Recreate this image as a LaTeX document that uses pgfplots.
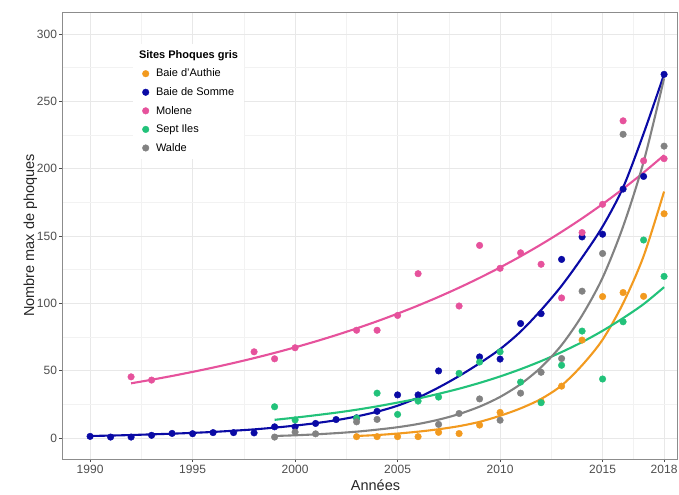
\documentclass[border=0pt]{standalone}
\usepackage{fontspec}
\setmainfont{Liberation Sans}
\usepackage{pgfplots}
\pgfplotsset{compat=1.18}
\definecolor{cOr}{HTML}{F29A1F}
\definecolor{cBl}{HTML}{0A0AA5}
\definecolor{cPk}{HTML}{E6529C}
\definecolor{cGn}{HTML}{22C27A}
\definecolor{cGy}{HTML}{828282}
\definecolor{tickc}{HTML}{4D4D4D}
\begin{document}
\begin{tikzpicture}
\begin{axis}[
  scale only axis, width=615pt, height=447pt,
  xmin=1988.63, xmax=2018.63, ymin=-15.6, ymax=316.3,
  axis line style={draw=gray!90, line width=0.8pt},
  grid=both,
  major grid style={color=black!9, line width=0.6pt},
  minor grid style={color=black!5, line width=0.4pt},
  xtick={1990,1995,2000,2005,2010,2015,2018},
  ytick={0,50,100,150,200,250,300},
  minor xtick={1992.5,1997.5,2002.5,2007.5,2012.5,2016.5},
  minor ytick={25,75,125,175,225,275},
  tick align=outside, xtick pos=bottom, ytick pos=left,
  major tick length=3pt, minor tick length=0pt,
  tick style={draw=tickc, line width=0.6pt},
  /pgf/number format/assume math mode=true,
  /pgf/number format/1000 sep={},
  ticklabel style={font=\fontsize{12}{13}\selectfont, text=tickc},
  yticklabel style={xshift=1.5pt},
  xlabel={Années}, ylabel={Nombre max de phoques},
  xlabel style={yshift=1pt, xshift=6pt},
  ylabel style={yshift=-7pt},
  label style={font=\fontsize{14.5}{16}\selectfont, text=black!85},
  legend cell align=left,
  legend style={at={(axis description cs:0.1154,0.928)}, anchor=north west,
    draw=none, fill=white, font=\fontsize{11}{13}\selectfont,
    row sep=5.1pt, inner sep=4pt},
]
\addlegendimage{empty legend}
\addlegendentry{\hspace{-12pt}\textbf{Sites Phoques gris}}
% points
\addplot[only marks, mark=*, mark size=3.3pt, color=cOr] coordinates {
(2003,1)(2004,1)(2005,1)(2006,1)(2007,4.2)(2008,3.3)(2009,9.6)(2010,19)(2012,27)(2013,38.5)(2014,72.7)(2015,105)(2016,108)(2017,105.2)(2018,166.5)};
\addlegendentry{\hspace{5pt}Baie d'Authie}
\addplot[only marks, mark=*, mark size=3.3pt, color=cBl] coordinates {
(1990,1.2)(1991,0.7)(1992,0.7)(1993,2)(1994,3.4)(1995,3.2)(1996,4)(1997,4)(1998,3.8)(1999,8.3)(2000,8.3)(2001,10.8)(2002,13.7)(2003,15)(2004,19.8)(2005,32)(2006,32)(2007,49.8)(2009,60.2)(2010,58.6)(2011,85)(2012,92.3)(2013,132.6)(2014,149.3)(2015,151.3)(2016,184.8)(2017,194.2)(2018,270)};
\addlegendentry{\hspace{5pt}Baie de Somme}
\addplot[only marks, mark=*, mark size=3.3pt, color=cPk] coordinates {
(1992,45.4)(1993,43)(1998,64)(1999,58.8)(2000,67)(2003,80)(2004,80)(2005,91)(2006,122)(2008,98)(2009,143)(2010,126)(2011,137.5)(2012,129)(2013,104)(2014,152.5)(2015,173.5)(2016,235.5)(2017,205.8)(2018,207.4)};
\addlegendentry{\hspace{5pt}Molene}
\addplot[only marks, mark=*, mark size=3.3pt, color=cGn] coordinates {
(1999,23.2)(2000,13.4)(2003,14.8)(2004,33.3)(2005,17.5)(2006,27.4)(2007,30.4)(2008,48)(2009,56.4)(2010,64)(2011,41.5)(2012,26.2)(2013,54)(2014,79.4)(2015,43.8)(2016,86.3)(2017,147)(2018,120)};
\addlegendentry{\hspace{5pt}Sept Iles}
\addplot[only marks, mark=*, mark size=3.3pt, color=cGy] coordinates {
(1999,0.7)(2000,4.4)(2001,3.1)(2003,12)(2004,13.8)(2007,10.1)(2008,18.2)(2009,29)(2010,13.2)(2011,33.3)(2012,48.8)(2013,59)(2014,109)(2015,137)(2016,225.5)(2018,216.7)};
\addlegendentry{\hspace{5pt}Walde}
% fitted curves
\addplot[forget plot, color=cOr, line width=2.1pt, smooth] coordinates {
(2003,1.5)(2004,2.2)(2005,3.3)(2006,4.7)(2007,6.5)(2008,8.8)(2009,12)(2010,16.5)(2011,22)(2012,29)(2013,39)(2014,54)(2015,73)(2016,100)(2017,135)(2018,183)};
\addplot[forget plot, color=cBl, line width=2.1pt, smooth] coordinates {
(1990,1.5)(1991,1.8)(1992,2.2)(1993,2.7)(1994,3.2)(1995,3.8)(1996,4.5)(1997,5.4)(1998,6.4)(1999,7.7)(2000,9.2)(2001,11)(2002,13.2)(2003,16)(2004,19.5)(2005,24)(2006,30)(2007,37.5)(2008,46)(2009,55.5)(2010,66)(2011,79)(2012,95)(2013,113)(2014,134)(2015,157)(2016,186)(2017,226)(2018,270)};
\addplot[forget plot, color=cPk, line width=2.1pt, smooth] coordinates {
(1992,40.6)(1993,43.25)(1994,46.07)(1995,49.08)(1996,52.28)(1997,55.69)(1998,59.32)(1999,63.19)(2000,67.31)(2001,71.7)(2002,76.38)(2003,81.36)(2004,86.67)(2005,92.33)(2006,98.35)(2007,104.77)(2008,111.6)(2009,118.88)(2010,126.64)(2011,134.9)(2012,143.7)(2013,153.08)(2014,163.06)(2015,173.7)(2016,185.03)(2017,197.1)(2018,209.96)};
\addplot[forget plot, color=cGn, line width=2.1pt, smooth] coordinates {
(1999,13.5)(2000,15.1)(2001,16.9)(2002,18.8)(2003,21)(2004,23.5)(2005,26.3)(2006,29.3)(2007,32.8)(2008,36.6)(2009,40.9)(2010,45.7)(2011,51.1)(2012,57.1)(2013,63.8)(2014,71.2)(2015,79.6)(2016,89)(2017,99.4)(2018,112)};
\addplot[forget plot, color=cGy, line width=2.1pt, smooth] coordinates {
(1999,1.5)(2000,2)(2001,2.7)(2002,3.6)(2003,4.7)(2004,6.2)(2005,8)(2006,10.4)(2007,13.6)(2008,17.8)(2009,23.3)(2010,30.5)(2011,40)(2012,52.5)(2013,69)(2014,91)(2015,119)(2016,157)(2017,205)(2018,267)};
\end{axis}
\pgfresetboundingbox
\path[use as bounding box] ([xshift=-62pt,yshift=-35pt]current axis.south west) rectangle ([xshift=2pt,yshift=12pt]current axis.north east);
\end{tikzpicture}
\end{document}
